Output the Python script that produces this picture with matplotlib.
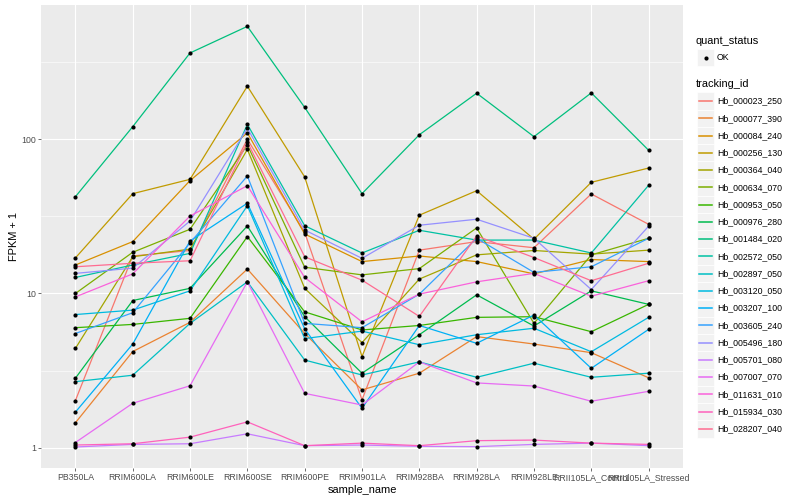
import matplotlib
matplotlib.use("Agg")
import matplotlib.pyplot as plt
from matplotlib.patches import Rectangle
from matplotlib.lines import Line2D

plt.rcParams["font.family"] = ["Liberation Sans", "DejaVu Sans"]

samples = ["PB350LA", "RRIM600LA", "RRIM600LE", "RRIM600SE", "RRIM600PE", "RRIM901LA",
           "RRIM928BA", "RRIM928LA", "RRIM928LE", "RRII105LA_Control", "RRII105LA_Stressed"]

tracking_ids = ["Hb_000023_250", "Hb_000077_390", "Hb_000084_240", "Hb_000256_130", "Hb_000364_040",
                "Hb_000634_070", "Hb_000953_050", "Hb_000976_280", "Hb_001484_020", "Hb_002572_050",
                "Hb_002897_050", "Hb_003120_050", "Hb_003207_100", "Hb_003605_240", "Hb_005496_180",
                "Hb_005701_080", "Hb_007007_070", "Hb_011631_010", "Hb_015934_030", "Hb_028207_040"]

# FPKM + 1 per sample, one list per gene
hb_000023_250 = [2.02, 17.5, 19.0, 100, 24.9, 2.04, 19.1, 21.7, 19.8, 44.2, 28.1]
hb_000077_390 = [1.45, 4.2, 6.5, 14.4, 5.5, 2.37, 3.04, 5.25, 4.7, 4.13, 2.84]
hb_000084_240 = [15.3, 21.7, 54, 110, 24.3, 16.1, 17.5, 16.1, 13.4, 16.6, 16.1]
hb_000256_130 = [17.0, 44.4, 55, 221, 57, 3.9, 32.2, 46.4, 22.5, 52.6, 65.1]
hb_000364_040 = [4.4, 17.3, 19.4, 86, 10.8, 4.8, 12.4, 17.8, 19.0, 18.0, 19.1]
hb_000634_070 = [10.0, 18.5, 26.1, 92, 14.8, 13.2, 14.5, 26.6, 6.4, 17.8, 22.8]
hb_000953_050 = [6.0, 6.3, 6.9, 23.4, 7.6, 5.8, 6.2, 7.0, 7.07, 5.65, 8.5]
hb_000976_280 = [2.82, 9.0, 10.8, 27.4, 7.07, 3.04, 5.4, 9.8, 6.15, 10.4, 8.5]
hb_001484_020 = [42.4, 120.7, 363, 540, 161, 44.4, 107, 199, 104, 200, 84.9]
hb_002572_050 = [12.7, 15.3, 18.2, 125, 27.5, 18.3, 25.7, 22.2, 22.2, 18.3, 50.3]
hb_002897_050 = [2.68, 2.95, 6.4, 11.9, 3.7, 2.96, 3.6, 2.86, 3.53, 2.86, 3.04]
hb_003120_050 = [7.3, 7.8, 10.4, 37.1, 5.1, 5.7, 4.65, 5.4, 5.95, 4.19, 7.0]
hb_003207_100 = [1.70, 4.7, 21.9, 38.5, 5.9, 1.80, 6.2, 4.75, 7.25, 3.27, 5.85]
hb_003605_240 = [5.5, 7.5, 21.3, 57.8, 6.4, 6.0, 9.9, 22.8, 13.7, 14.9, 22.8]
hb_005496_180 = [13.5, 14.6, 29.5, 118, 25.8, 16.9, 27.7, 30.3, 22.8, 10.6, 27.3]
hb_005701_080 = [1.01, 1.05, 1.06, 1.23, 1.03, 1.04, 1.02, 1.015, 1.05, 1.07, 1.03]
hb_007007_070 = [1.08, 1.94, 2.52, 11.9, 2.25, 1.89, 3.6, 2.63, 2.51, 2.0, 2.32]
hb_011631_010 = [9.5, 13.4, 31.8, 50, 12.7, 6.55, 9.9, 11.9, 13.5, 9.6, 12.1]
hb_015934_030 = [1.04, 1.06, 1.17, 1.47, 1.03, 1.07, 1.03, 1.11, 1.12, 1.07, 1.05]
hb_028207_040 = [14.9, 15.7, 16.3, 96, 17.3, 12.2, 7.1, 23.6, 17.1, 12.1, 15.7]

values = [hb_000023_250, hb_000077_390, hb_000084_240, hb_000256_130, hb_000364_040,
          hb_000634_070, hb_000953_050, hb_000976_280, hb_001484_020, hb_002572_050,
          hb_002897_050, hb_003120_050, hb_003207_100, hb_003605_240, hb_005496_180,
          hb_005701_080, hb_007007_070, hb_011631_010, hb_015934_030, hb_028207_040]

# ggplot default hue palette for 20 levels
colors = ["#F8766D", "#EA8331", "#D89000", "#C09B00", "#A3A500", "#7CAE00", "#39B600", "#00BB4E",
          "#00BF7D", "#00C1A3", "#00BFC4", "#00BAE0", "#00B0F6", "#35A2FF", "#9590FF", "#C77CFF",
          "#E76BF3", "#FA62DB", "#FF62BC", "#FF6C91"]

W, H = 800, 500
fig = plt.figure(figsize=(8, 5), dpi=100)
ax = fig.add_axes([41 / W, 1 - 468 / H, 642 / W, 463 / H])
ax.set_facecolor("#EBEBEB")

x = list(range(len(samples)))
for vals, col in zip(values, colors):
    ax.plot(x, vals, color=col, lw=0.9, zorder=3)
    ax.plot(x, vals, "o", color="black", ms=3.0, mec="none", zorder=4)

ax.set_yscale("log")
ax.set_ylim(0.738, 743)
ax.set_xlim(-0.6, 10.6)
ax.set_yticks([1, 10, 100])
ax.set_yticklabels(["1", "10", "100"])
ax.set_yticks([10 ** 0.5, 10 ** 1.5, 10 ** 2.5], minor=True)
ax.set_yticklabels([], minor=True)
ax.set_xticks(x)
ax.set_xticklabels(samples)
ax.grid(True, which="major", color="white", lw=0.8)
ax.grid(True, which="minor", axis="y", color="white", lw=0.4)
ax.set_axisbelow(True)
for s in ax.spines.values():
    s.set_visible(False)
ax.tick_params(which="major", length=2, width=0.5, color="#333333", labelsize=6.3,
               labelcolor="#4D4D4D", pad=1.5)
ax.tick_params(which="minor", length=0)
ax.set_xlabel("sample_name", fontsize=7.9, labelpad=2)
ax.set_ylabel("FPKM + 1", fontsize=7.9, labelpad=2)

# legends drawn in a pixel-based overlay axis
lg = fig.add_axes([0, 0, 1, 1])
lg.set_xlim(0, W)
lg.set_ylim(H, 0)
lg.axis("off")

lg.text(696, 41, "quant_status", fontsize=7.9, va="center", ha="left")
lg.add_patch(Rectangle((697, 49), 17, 17, facecolor="#F2F2F2", edgecolor="white", lw=0.5))
lg.add_line(Line2D([705.5], [57.5], marker="o", color="black", ms=3.0, mec="none"))
lg.text(717, 57.5, "OK", fontsize=6.3, va="center", ha="left")

lg.text(696, 84, "tracking_id", fontsize=7.9, va="center", ha="left")
step = 17.26
for i, (name, col) in enumerate(zip(tracking_ids, colors)):
    cy = 101 + i * step
    lg.add_patch(Rectangle((697, cy - 8.6), 17, 17.2, facecolor="#F2F2F2", edgecolor="white", lw=0.5))
    lg.add_line(Line2D([699, 712], [cy, cy], color=col, lw=1.1))
    lg.text(717, cy, name, fontsize=6.3, va="center", ha="left")

fig.savefig("out.png", dpi=100)
